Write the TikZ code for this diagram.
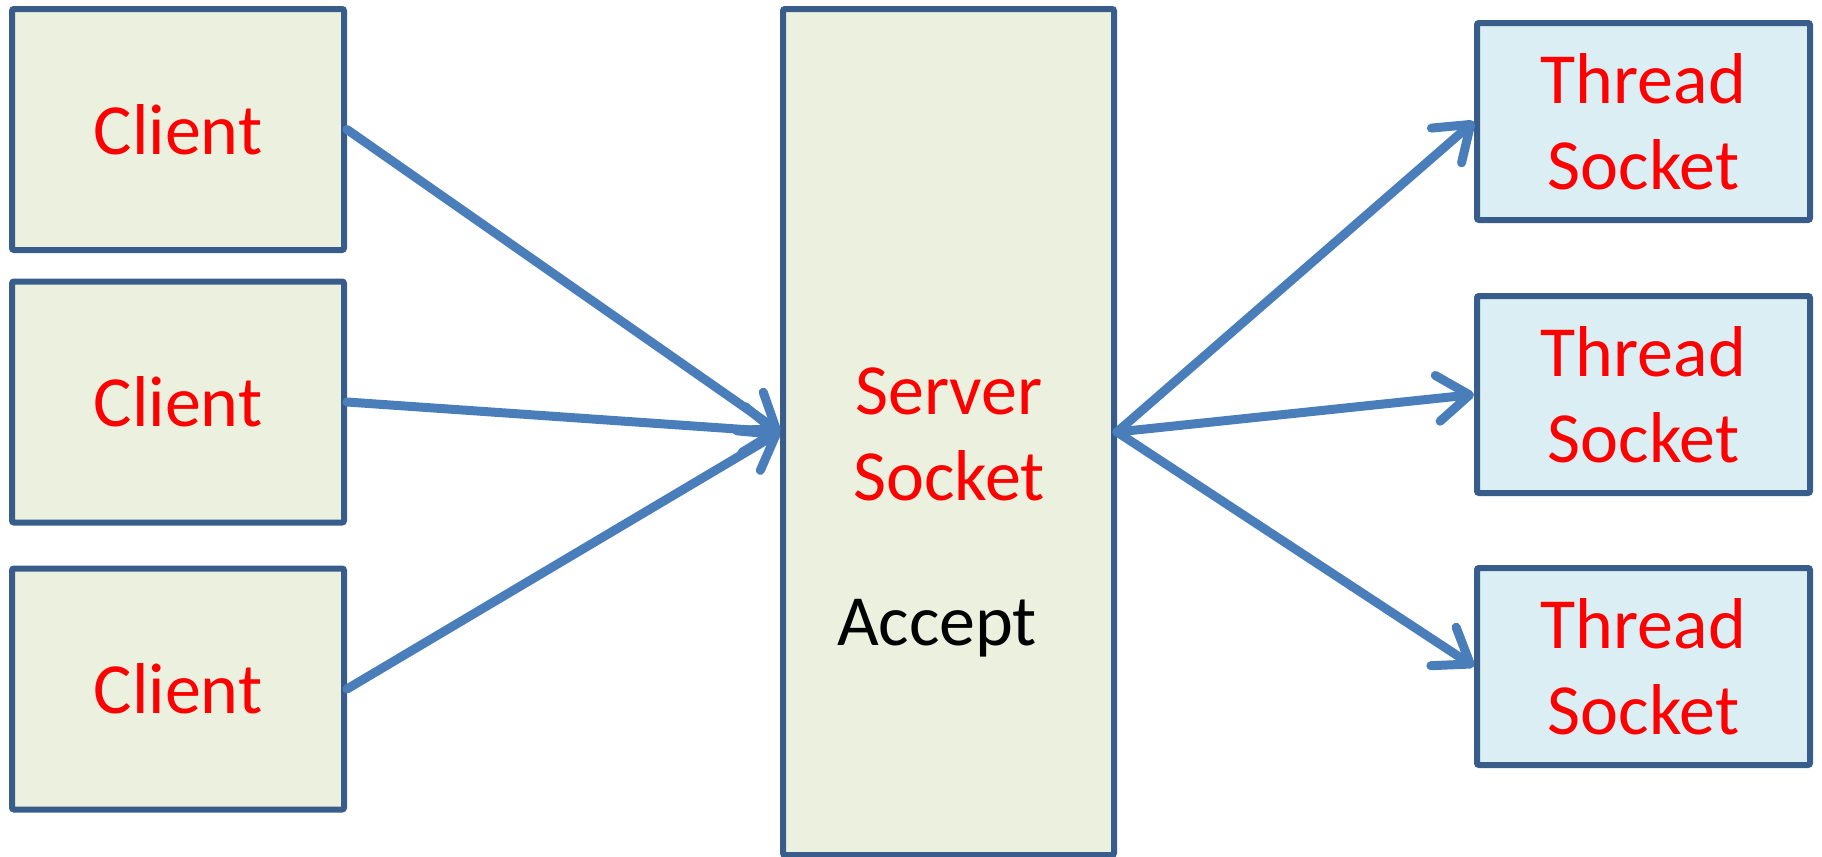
\documentclass[tikz,border=0pt]{standalone}
\usepackage{fontspec}
\setmainfont{Carlito}
\usepackage{tikz}
\usetikzlibrary{arrows.meta}
\definecolor{boxline}{HTML}{385D8A}
\definecolor{clientfill}{HTML}{EBF1DE}
\definecolor{threadfill}{HTML}{DBEEF4}
\definecolor{linkblue}{HTML}{4A7EBB}
\tikzstyle{box} = [draw=boxline, line width=3pt, rounded corners=1pt, inner sep=0pt, align=center, text=red, font=\fontsize{36}{43}\selectfont]
\tikzstyle{clientbox} = [box, fill=clientfill, minimum width=166pt, minimum height=120.5pt]
\tikzstyle{serverbox} = [box, fill=clientfill, minimum width=165.5pt, minimum height=423pt]
\tikzstyle{threadbox} = [box, fill=threadfill, minimum width=166.5pt, minimum height=98.5pt]
\tikzstyle{arrow} = [linkblue, line width=4.5pt, line cap=round, line join=round, -{Straight Barb[length=16pt, width=23pt, line width=4.5pt, round]}]

\begin{document}
\begin{tikzpicture}[x=0.5pt, y=-0.5pt]
            \useasboundingbox (0,0) rectangle (1822,857);
            \node[clientbox] (c1) at (178,129.5) {Client};
            \node[clientbox] (c2) at (178,402) {Client};
            \node[clientbox] (c3) at (178,689) {Client};
            \node[serverbox] (srv) at (948.5,432) {};
            \node[text=red, font=\fontsize{36}{43}\selectfont, align=center] (srvtext) at (949,434) {Server\\Socket};
            \node[font=\fontsize{36}{43}\selectfont] (accept) at (937,628) {Accept};
            \node[threadbox] (t1) at (1643.5,121.5) {Thread\\Socket};
            \node[threadbox] (t2) at (1643.5,394.5) {Thread\\Socket};
            \node[threadbox] (t3) at (1643.5,666.5) {Thread\\Socket};
            \draw[arrow] (c1.east) -- (srv.west);
            \draw[arrow] (c2.east) -- (srv.west);
            \draw[arrow] (c3.east) -- (srv.west);
            \draw[arrow] (srv.east) -- (t1.west);
            \draw[arrow] (srv.east) -- (t2.west);
            \draw[arrow] (srv.east) -- (t3.west);
        \end{tikzpicture}
\end{document}
